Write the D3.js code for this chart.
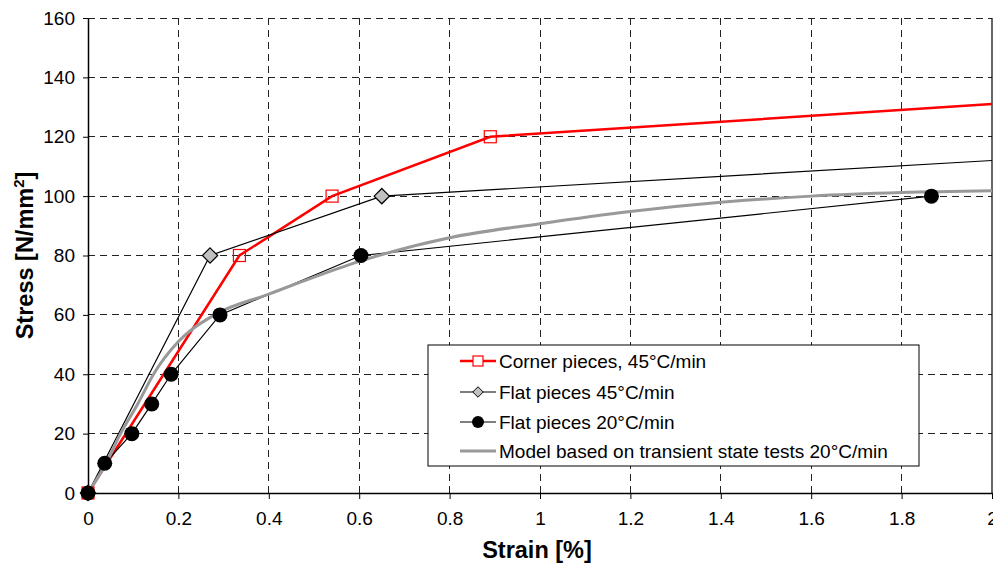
<!DOCTYPE html>
<html>
<head>
<meta charset="utf-8">
<script src="https://cdn.jsdelivr.net/npm/d3@7"></script>
<style>
  body { margin: 0; background: #fff; }
  text { font-family: "Liberation Sans", Arial, sans-serif; }
  .tick-label { font-size: 19px; fill: #000; }
  .axis-title { font-size: 23.5px; font-weight: bold; fill: #000; }
  .legend-text { font-size: 19px; fill: #000; }
</style>
</head>
<body>
<div id="chart"></div>
<script>
// data
var cornerX = [0, 0.335, 0.54, 0.89, 2.0];
var cornerY = [0, 80, 100, 120, 131];
var flat45X = [0, 0.27, 0.65, 2.0];
var flat45Y = [0, 80, 100, 112];
var flat20X = [0, 0.037, 0.097, 0.141, 0.184, 0.292, 0.604, 1.866];
var flat20Y = [0, 10, 20, 30, 40, 60, 80, 100];
var modelX = [0, 0.04, 0.072, 0.11, 0.145, 0.2, 0.28, 0.4, 0.47, 0.6, 0.8, 1.0, 1.2, 1.4, 1.6, 1.8, 2.0];
var modelY = [0, 10, 20, 30, 40, 51, 60, 67, 71, 78, 86, 90.7, 94.8, 97.9, 100, 101.2, 101.8];
var xTicks = [0, 0.2, 0.4, 0.6, 0.8, 1, 1.2, 1.4, 1.6, 1.8, 2];
var yTicks = [0, 20, 40, 60, 80, 100, 120, 140, 160];
var legendLabels = ["Corner pieces, 45°C/min", "Flat pieces 45°C/min",
                    "Flat pieces 20°C/min", "Model based on transient state tests 20°C/min"];

function zip(xs, ys) { return xs.map(function(x, i) { return {x: x, y: ys[i]}; }); }

var W = 993, H = 564;
var mLeft = 88, mRight = 992, mTop = 18, mBottom = 493;

var svg = d3.select("#chart").append("svg")
    .attr("width", W)
    .attr("height", H);

var x = d3.scaleLinear().domain([0, 2]).range([mLeft, mRight]);
var y = d3.scaleLinear().domain([0, 160]).range([mBottom, mTop]);

// gridlines
svg.append("g").selectAll("line").data(xTicks.slice(1, -1)).join("line")
    .attr("x1", function(d) { return x(d); }).attr("x2", function(d) { return x(d); })
    .attr("y1", mTop).attr("y2", mBottom)
    .attr("stroke", "#222").attr("stroke-width", 1).attr("stroke-dasharray", "7,5")
    .attr("shape-rendering", "crispEdges");
svg.append("g").selectAll("line").data(yTicks.slice(1)).join("line")
    .attr("x1", mLeft).attr("x2", mRight)
    .attr("y1", function(d) { return y(d); }).attr("y2", function(d) { return y(d); })
    .attr("stroke", "#222").attr("stroke-width", 1).attr("stroke-dasharray", "7,5")
    .attr("shape-rendering", "crispEdges");

// axes
var xAxis = svg.append("g").attr("transform", "translate(0," + mBottom + ")")
    .call(d3.axisBottom(x).tickValues(xTicks).tickFormat(d3.format("~g")).tickSizeInner(6).tickSizeOuter(0).tickPadding(13));
var yAxis = svg.append("g").attr("transform", "translate(" + mLeft + ",0)")
    .call(d3.axisLeft(y).tickValues(yTicks).tickSizeInner(5).tickSizeOuter(0).tickPadding(8));
[xAxis, yAxis].forEach(function(a) {
  a.select(".domain").attr("stroke", "#000").attr("stroke-width", 1.5);
  a.selectAll(".tick line").attr("stroke", "#000");
  a.selectAll(".tick text").attr("class", "tick-label").attr("font-size", null).attr("font-family", null);
});
// right border
svg.append("line").attr("x1", mRight).attr("x2", mRight).attr("y1", mTop).attr("y2", mBottom)
    .attr("stroke", "#000").attr("stroke-width", 1.2);

svg.append("clipPath").attr("id", "plotclip").append("rect")
    .attr("x", mLeft - 10).attr("y", mTop - 10).attr("width", mRight - mLeft + 10).attr("height", mBottom - mTop + 20);

var plot = svg.append("g").attr("clip-path", "url(#plotclip)");

var line = d3.line().x(function(d) { return x(d.x); }).y(function(d) { return y(d.y); });
var smooth = d3.line().x(function(d) { return x(d.x); }).y(function(d) { return y(d.y); }).curve(d3.curveMonotoneX);

var corner = zip(cornerX, cornerY), flat45 = zip(flat45X, flat45Y),
    flat20 = zip(flat20X, flat20Y), model = zip(modelX, modelY);

plot.append("path").attr("d", line(corner)).attr("fill", "none").attr("stroke", "#ff0000").attr("stroke-width", 2.5);
plot.append("path").attr("d", line(flat45)).attr("fill", "none").attr("stroke", "#000").attr("stroke-width", 1.2);
plot.append("path").attr("d", line(flat20)).attr("fill", "none").attr("stroke", "#000").attr("stroke-width", 1.2);
plot.append("path").attr("d", smooth(model)).attr("fill", "none").attr("stroke", "#999999").attr("stroke-width", 3);

function inside(d) { return d.x < 2; }

var diamond = d3.symbol().type(d3.symbolDiamond2).size(150);
plot.selectAll(".sq").data(corner.filter(inside)).join("rect")
    .attr("x", function(d) { return x(d.x) - 6; }).attr("y", function(d) { return y(d.y) - 6; })
    .attr("width", 12).attr("height", 12)
    .attr("fill", "none").attr("stroke", "#ff0000").attr("stroke-width", 1.2);
plot.selectAll(".dm").data(flat45.filter(inside)).join("path")
    .attr("d", diamond)
    .attr("transform", function(d) { return "translate(" + x(d.x) + "," + y(d.y) + ")"; })
    .attr("fill", "#c0c0c0").attr("stroke", "#000").attr("stroke-width", 1.2);
plot.selectAll(".dot").data(flat20).join("circle")
    .attr("cx", function(d) { return x(d.x); }).attr("cy", function(d) { return y(d.y); })
    .attr("r", 7.5).attr("fill", "#000");

// axis titles
svg.append("text").attr("class", "axis-title").attr("x", (mLeft + mRight) / 2 - 3).attr("y", 558)
    .attr("text-anchor", "middle").text("Strain [%]");
var yt = svg.append("text").attr("class", "axis-title").attr("text-anchor", "middle")
    .attr("transform", "translate(33," + ((mTop + mBottom) / 2) + ") rotate(-90)");
yt.append("tspan").text("Stress [N/mm");
yt.append("tspan").attr("dy", -9).attr("font-size", 15).text("2");
yt.append("tspan").attr("dy", 9).text("]");

// legend
var lg = svg.append("g").attr("transform", "translate(428,345)");
lg.append("rect").attr("width", 491).attr("height", 121)
    .attr("fill", "#fff").attr("stroke", "#000").attr("stroke-width", 1);
var rows = [16, 47, 77, 106];
var styles = [
  {stroke: "#ff0000", w: 2.5}, {stroke: "#000", w: 1.2},
  {stroke: "#000", w: 1.2}, {stroke: "#999999", w: 3}
];
legendLabels.forEach(function(label, i) {
  var g = lg.append("g").attr("transform", "translate(0," + rows[i] + ")");
  g.append("line").attr("x1", 32).attr("x2", 68).attr("y1", 0).attr("y2", 0)
      .attr("stroke", styles[i].stroke).attr("stroke-width", styles[i].w);
  if (i === 0) {
    g.append("rect").attr("x", 45).attr("y", -5).attr("width", 10).attr("height", 10)
        .attr("fill", "#fff").attr("stroke", "#ff0000").attr("stroke-width", 1.2);
  } else if (i === 1) {
    g.append("path").attr("d", d3.symbol().type(d3.symbolDiamond2).size(70)).attr("transform", "translate(50,0)")
        .attr("fill", "#c0c0c0").attr("stroke", "#000").attr("stroke-width", 1);
  } else if (i === 2) {
    g.append("circle").attr("cx", 50).attr("cy", 0).attr("r", 6).attr("fill", "#000");
  }
  g.append("text").attr("class", "legend-text").attr("x", 71).attr("y", 7).text(label);
});
</script>
</body>
</html>
